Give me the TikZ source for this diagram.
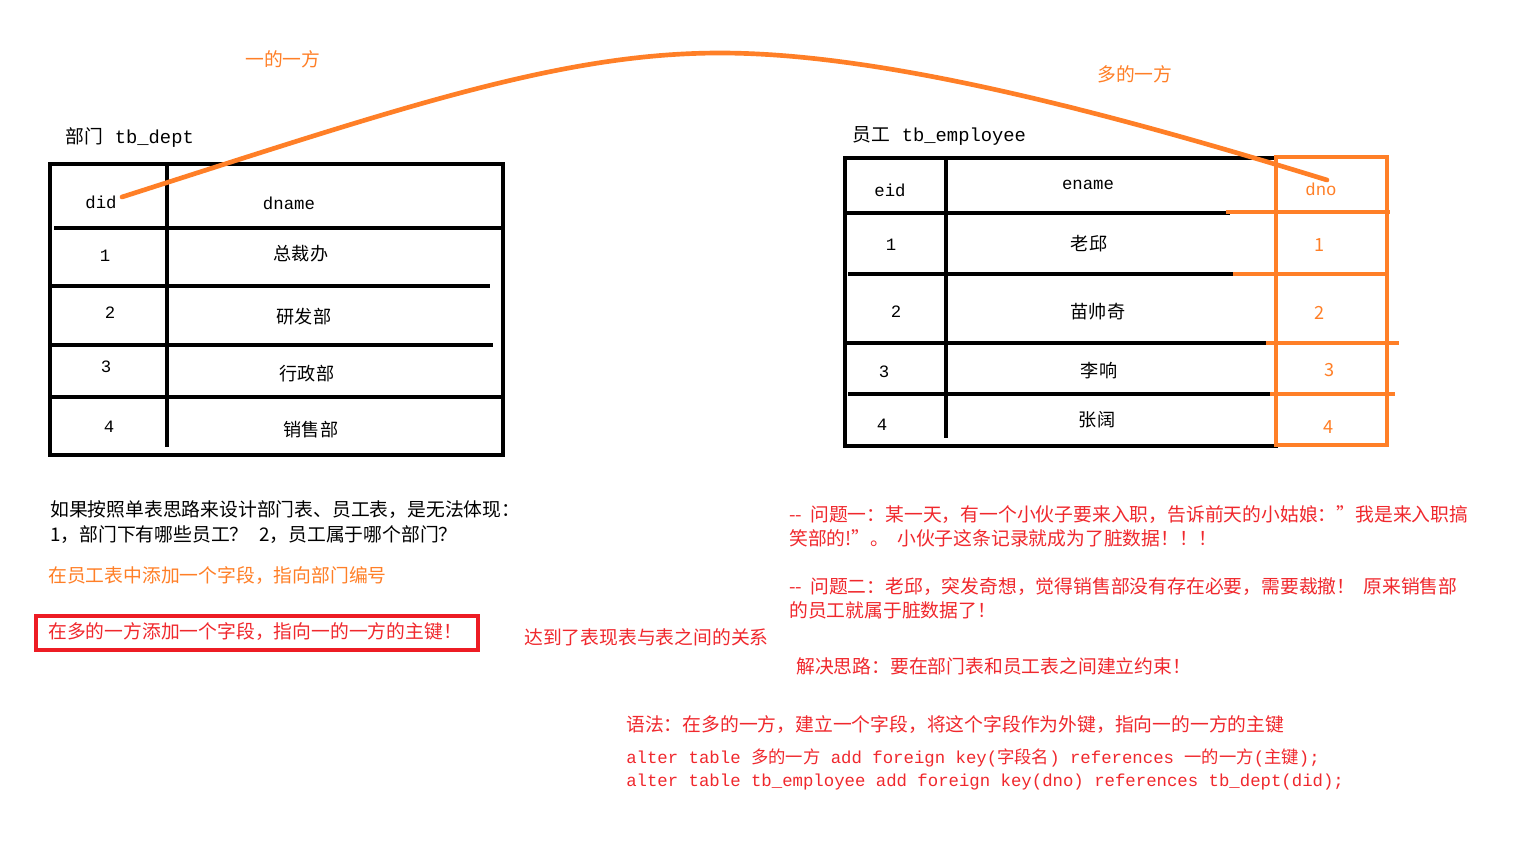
\documentclass[tikz,border=0pt]{standalone}
\usepackage{fontspec}
\setmainfont{Noto Sans CJK SC}
\newfontfamily\monof{Liberation Mono}
\definecolor{orng}{HTML}{FF7F27}
\definecolor{redl}{HTML}{ED1C24}
\definecolor{redt}{HTML}{F0282D}
\begin{document}
\begin{tikzpicture}[x=0.75pt,y=-0.75pt,
  tline/.style={line width=3pt,line cap=rect},
  oline/.style={line width=3pt,draw=orng,line cap=rect},
  txt/.style={inner sep=0pt,anchor=west,font=\fontsize{14.1}{16}\selectfont},
  cell/.style={inner sep=0pt,font=\fontsize{13.6}{15}\selectfont},
  mcell/.style={inner sep=0pt,font=\fontsize{13}{15}\selectfont\monof},
  code/.style={inner sep=0pt,anchor=west,font=\fontsize{13}{16}\selectfont}]
\useasboundingbox (0,0) rectangle (1534,844);
\fill[white] (0,0) rectangle (1534,844);

% labels above
\node[txt,text=orng] (one) at (245,59) {一的一方};
\node[txt,text=orng] (many) at (1097,74) {多的一方};

% ---------- tb_dept ----------
\node[txt] (t1) at (65,138) {部门\hspace{9pt}{\monof tb\_dept}};
\draw[tline] (50,164) rectangle (503,455);
\draw[tline] (167,165) -- (167,445);
\draw[tline] (56,228) -- (503,228);
\draw[tline] (50,286) -- (488,286);
\draw[tline] (50,345) -- (491,345);
\draw[tline] (50,397) -- (503,397);
\node[mcell] (did) at (101,202) {did};
\node[mcell] (dname) at (289,203) {dname};
\node[mcell] (d1) at (105,256) {1};
\node[cell] (n1) at (301,254) {总裁办};
\node[mcell] (d2) at (110,313) {2};
\node[cell] (n2) at (304,317) {研发部};
\node[mcell] (d3) at (106,367) {3};
\node[cell] (n3) at (307,374) {行政部};
\node[mcell] (d4) at (109,427) {4};
\node[cell] (n4) at (311,430) {销售部};

% ---------- tb_employee ----------
\node[txt] (t2) at (852,136) {员工\hspace{9pt}{\monof tb\_employee}};
\draw[tline] (845,158) rectangle (1276,446);
\draw[tline] (946,162) -- (946,436);
\draw[tline] (848,213) -- (1228,213);
\draw[tline] (850,274) -- (1235,274);
\draw[tline] (845,343) -- (1268,343);
\draw[tline] (850,394) -- (1272,394);
\draw[oline] (1276,157) rectangle (1387,445);
\draw[oline] (1228,212) -- (1388,212);
\draw[oline] (1235,274) -- (1385,274);
\draw[oline] (1268,343) -- (1397,343);
\draw[oline] (1272,394) -- (1393,394);
\node[mcell] (eid) at (890,190) {eid};
\node[mcell] (ename) at (1088,185) {ename};
\node[mcell,text=orng] (dno) at (1321,189) {dno};
\node[mcell] (e1) at (891,245) {1};
\node[cell] (m1) at (1089,244) {老邱};
\node[mcell] (e2) at (896,312) {2};
\node[cell] (m2) at (1098,312) {苗帅奇};
\node[mcell] (e3) at (884,372) {3};
\node[cell] (m3) at (1099,371) {李响};
\node[mcell] (e4) at (882,425) {4};
\node[cell] (m4) at (1097,420) {张阔};
\node[cell,text=orng] (f1) at (1320,245) {1};
\node[cell,text=orng] (f2) at (1320,313) {2};
\node[cell,text=orng] (f3) at (1330,370) {3};
\node[cell,text=orng] (f4) at (1329,427) {4};

% ---------- connector ----------
\coordinate (cs) at (122,197);
\coordinate (cp) at (720,53);
\coordinate (ce) at (1327,180);
\draw[orng,line width=3.5pt,line cap=round] (cs) .. controls (400,108) and (560,53) .. (cp)
  .. controls (880,53) and (1100,110) .. (ce);

% ---------- bottom texts ----------
\node[txt] (b1) at (50,510) {如果按照单表思路来设计部门表、员工表，是无法体现：};
\node[txt] (b2) at (50,535) {1，部门下有哪些员工？\hspace{8pt}2，员工属于哪个部门？};
\node[txt,text=orng] (b3) at (48,576) {在员工表中添加一个字段，指向部门编号};
\draw[redl,line width=2.6pt] (36,616) rectangle (478,650);
\node[txt,text=redt] (b4) at (48,632) {在多的一方添加一个字段，指向一的一方的主键！};
\node[txt,text=redt] (b5) at (524,637) {达到了表现表与表之间的关系};

\node[txt,text=redt] (r1) at (789,515) {{-}{-}\hspace{6pt}问题一：某一天，有一个小伙子要来入职，告诉前天的小姑娘：”我是来入职搞};
\node[txt,text=redt] (r2) at (789,538) {笑部的!”。\hspace{6pt}小伙子这条记录就成为了脏数据！！！};
\node[txt,text=redt] (r3) at (789,587) {{-}{-}\hspace{6pt}问题二：老邱，突发奇想，觉得销售部没有存在必要，需要裁撤！\hspace{6pt}原来销售部};
\node[txt,text=redt] (r4) at (789,610) {的员工就属于脏数据了！};
\node[txt,text=redt] (r5) at (796,666) {解决思路：要在部门表和员工表之间建立约束！};

\node[txt,text=redt] (s1) at (626,725) {语法：在多的一方，建立一个字段，将这个字段作为外键，指向一的一方的主键};
\node[code,text=redt] (s2) at (626,758) {{\monof alter table }多的一方{\monof{} add foreign key(}字段名{\monof) references }一的一方{\monof(}主键{\monof);}};
\node[code,text=redt] (s3) at (626,782) {\monof alter table tb\_employee add foreign key(dno) references tb\_dept(did);};
\end{tikzpicture}
\end{document}
